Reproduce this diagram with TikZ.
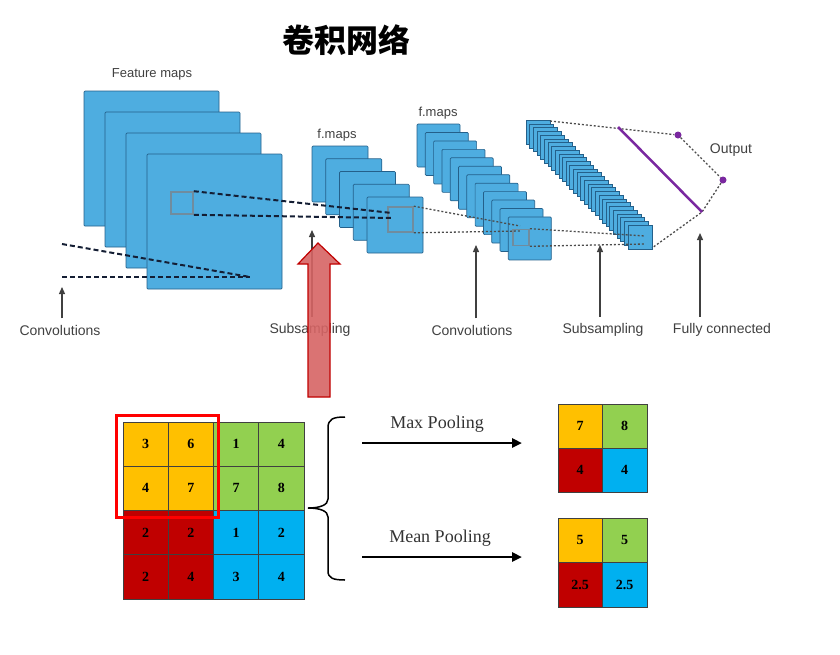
\documentclass[tikz,border=0pt]{standalone}
\usepackage{fontspec}
\newfontfamily\labfont{Liberation Sans}
\newfontfamily\tnrfont{Liberation Serif}
\newfontfamily\cjkfont{Noto Sans CJK SC}
\usetikzlibrary{arrows, arrows.meta}
\usetikzlibrary{calc}

\definecolor{mapblue}{RGB}{78,173,224}
\definecolor{mapedge}{RGB}{36,96,138}
\definecolor{winedge}{RGB}{112,140,158}
\definecolor{labgray}{RGB}{64,64,64}
\definecolor{dashnavy}{RGB}{20,30,52}
\definecolor{fcpurple}{RGB}{122,40,160}
\definecolor{q00}{RGB}{255,192,0}
\definecolor{q01}{RGB}{146,208,80}
\definecolor{q10}{RGB}{192,0,0}
\definecolor{q11}{RGB}{0,176,240}
\definecolor{bigred}{RGB}{214,100,100}
\definecolor{bigredline}{RGB}{192,0,0}

\begin{document}
\begin{tikzpicture}[x=1pt, y=-1pt,
    fmap/.style={fill=mapblue, draw=mapedge, line width=0.7pt, rounded corners=1pt},
    window/.style={draw=winedge, line width=1.6pt, inner sep=0pt},
    lbl/.style={text=labgray, font=\labfont\fontsize{14}{14}\selectfont},
    lblarrow/.style={draw=labgray, line width=1.3pt, shorten <=3pt, -{Triangle[length=7pt, width=6pt]}},
    thickdash/.style={line width=2pt, dash pattern=on 5pt off 3pt, dashnavy},
    dotline/.style={line width=1.3pt, dash pattern=on 2pt off 2pt, black!70},
    outdot/.style={circle, fill=fcpurple, inner sep=0pt, minimum size=7pt},
    cell/.style={draw=black!75, line width=0.6pt, inner sep=0pt, minimum width=45.25pt, minimum height=44.25pt, font=\tnrfont\bfseries\fontsize{14}{14}\selectfont},
    pool/.style={line width=2.5pt, -{Triangle[length=10pt, width=9pt]}},
    poollbl/.style={text=black!80, font=\tnrfont\fontsize{18}{18}\selectfont}]

  \useasboundingbox (0,0) rectangle (840,654);

  % title
  \node[font=\cjkfont\bfseries\fontsize{32}{32}\selectfont] (title) at (346,40) {卷积网络};

  % feature maps
  \foreach \i in {0,...,3}
    \draw[fmap] (84+21*\i, 91+21*\i) rectangle ++(135,135);
  \node[lbl, font=\labfont\fontsize{13}{13}\selectfont] (fmlbl) at (152,74) {Feature maps};
  \node[window, minimum size=22pt] (win1) at (182,203) {};

  % f.maps after subsampling
  \foreach \i in {0,...,4}
    \draw[fmap] (312+13.75*\i, 146+12.75*\i) rectangle ++(56,56);
  \node[lbl, font=\labfont\fontsize{13}{13}\selectfont] (fm2lbl) at (337,135) {f.maps};
  \node[window, minimum size=25pt] (win2) at (400.5,219.5) {};

  % f.maps after convolution
  \foreach \i in {0,...,11}
    \draw[fmap] (417+8.3*\i, 124+8.45*\i) rectangle ++(43,43);
  \node[lbl, font=\labfont\fontsize{13}{13}\selectfont] (fm3lbl) at (438,113) {f.maps};
  \node[window, minimum size=16pt] (win3) at (521,237.5) {};

  % subsampled stack
  \foreach \i in {0,...,28}
    \draw[fmap, line width=0.5pt, rounded corners=0pt] (526+3.64*\i, 120+3.75*\i) rectangle ++(24,24);

  % receptive fields
  \coordinate (cin1) at (62,244);
  \coordinate (cin2) at (62,277);
  \coordinate (cend) at (250,277);
  \draw[thickdash] (cin1) -- (cend);
  \draw[thickdash] (cin2) -- (cend);

  \coordinate (hit1a) at (392,213);
  \coordinate (hit1b) at (392,218);
  \draw[thickdash] (win1.north east) -- (hit1a);
  \draw[thickdash] (win1.south east) -- (hit1b);

  \coordinate (hit2a) at (520,226);
  \coordinate (hit2b) at (520,231);
  \draw[dotline] (win2.north east) -- (hit2a);
  \draw[dotline] (win2.south east) -- (hit2b);

  \coordinate (hit3a) at (645,236);
  \coordinate (hit3b) at (645,244);
  \draw[dotline] (win3.north east) -- (hit3a);
  \draw[dotline] (win3.south east) -- (hit3b);

  % fully connected
  \coordinate (fcA) at (550,121);
  \coordinate (fcB) at (618,127);
  \coordinate (fcC) at (702,212);
  \coordinate (fcD) at (652,248);
  \node[outdot] (out1) at (678,135) {};
  \node[outdot] (out2) at (723,180) {};
  \draw[dotline] (fcA) -- (out1);
  \draw[dotline] (out1) -- (out2);
  \draw[dotline] (out2) -- (fcC) -- (fcD);
  \draw[fcpurple, line width=2.5pt] (fcB) -- (fcC);
  \node[lbl] (outlbl) at (731,150) {Output};

  % stage labels
  \node[lbl] (conv1) at (60,330) {Convolutions};
  \node[lbl] (sub1) at (310,330) {Subsampling};
  \node[lbl] (conv2) at (472,330) {Convolutions};
  \node[lbl] (sub2) at (603,330) {Subsampling};
  \node[lbl] (full) at (722,330) {Fully connected};
  \coordinate (conv1tip) at (62,287);
  \coordinate (sub1tip) at (312,230);
  \coordinate (conv2tip) at (476,245);
  \coordinate (sub2tip) at (600,245);
  \coordinate (fulltip) at (700,233);
  \draw[lblarrow] (conv1tip |- conv1.north) -- (conv1tip);
  \draw[lblarrow] (sub1tip |- sub1.north) -- (sub1tip);
  \draw[lblarrow] (conv2tip |- conv2.north) -- (conv2tip);
  \draw[lblarrow] (sub2tip |- sub2.north) -- (sub2tip);
  \draw[lblarrow] (fulltip |- full.north) -- (fulltip);

  % big red arrow
  \draw[fill=bigred, fill opacity=0.9, draw=bigredline, line width=1.2pt]
    (308,397) -- (308,264) -- (298,264) -- (318,243) -- (340,264) -- (330,264) -- (330,397) -- cycle;

  % pooling input
  \foreach \r/\vals in {0/{3,6,1,4},1/{4,7,7,8},2/{2,2,1,2},3/{2,4,3,4}} {
    \foreach \v [count=\c from 0] in \vals {
      \pgfmathtruncatemacro\qr{\r/2}
      \pgfmathtruncatemacro\qc{\c/2}
      \node[cell, fill=q\qr\qc] (in-\r-\c) at (145.6+45.25*\c, 444.1+44.25*\r) {\v};
    }
  }
  \draw[red, line width=3pt] (116,415) rectangle (218,517);

  % brace
  \draw[line width=1.5pt] (345,417) .. controls (333,417) and (328,419) .. (328,428) -- (328,499)
    .. controls (328,505) and (320,508) .. (308,508) .. controls (320,508) and (328,511) .. (328,517)
    -- (328,571) .. controls (328,578) and (333,580) .. (345,580);

  % pooling
  \coordinate (maxfrom) at (362,443);
  \coordinate (maxto) at (522,443);
  \coordinate (meanfrom) at (362,557);
  \coordinate (meanto) at (522,557);
  \draw[pool] (maxfrom) -- (maxto);
  \draw[pool] (meanfrom) -- (meanto);
  \node[poollbl] (maxlbl) at (437,424) {Max Pooling};
  \node[poollbl] (meanlbl) at (440,538) {Mean Pooling};

  \node[cell, fill=q00, minimum width=44.5pt, minimum height=44pt] (max-0-0) at (580.2,426) {7};
  \node[cell, fill=q01, minimum width=44.5pt, minimum height=44pt] (max-0-1) at (624.7,426) {8};
  \node[cell, fill=q10, minimum width=44.5pt, minimum height=44pt] (max-1-0) at (580.2,470) {4};
  \node[cell, fill=q11, minimum width=44.5pt, minimum height=44pt] (max-1-1) at (624.7,470) {4};

  \node[cell, fill=q00, minimum width=44.5pt, minimum height=44.5pt] (mean-0-0) at (580.2,540.2) {5};
  \node[cell, fill=q01, minimum width=44.5pt, minimum height=44.5pt] (mean-0-1) at (624.7,540.2) {5};
  \node[cell, fill=q10, minimum width=44.5pt, minimum height=44.5pt] (mean-1-0) at (580.2,584.7) {2.5};
  \node[cell, fill=q11, minimum width=44.5pt, minimum height=44.5pt] (mean-1-1) at (624.7,584.7) {2.5};
\end{tikzpicture}
\end{document}
